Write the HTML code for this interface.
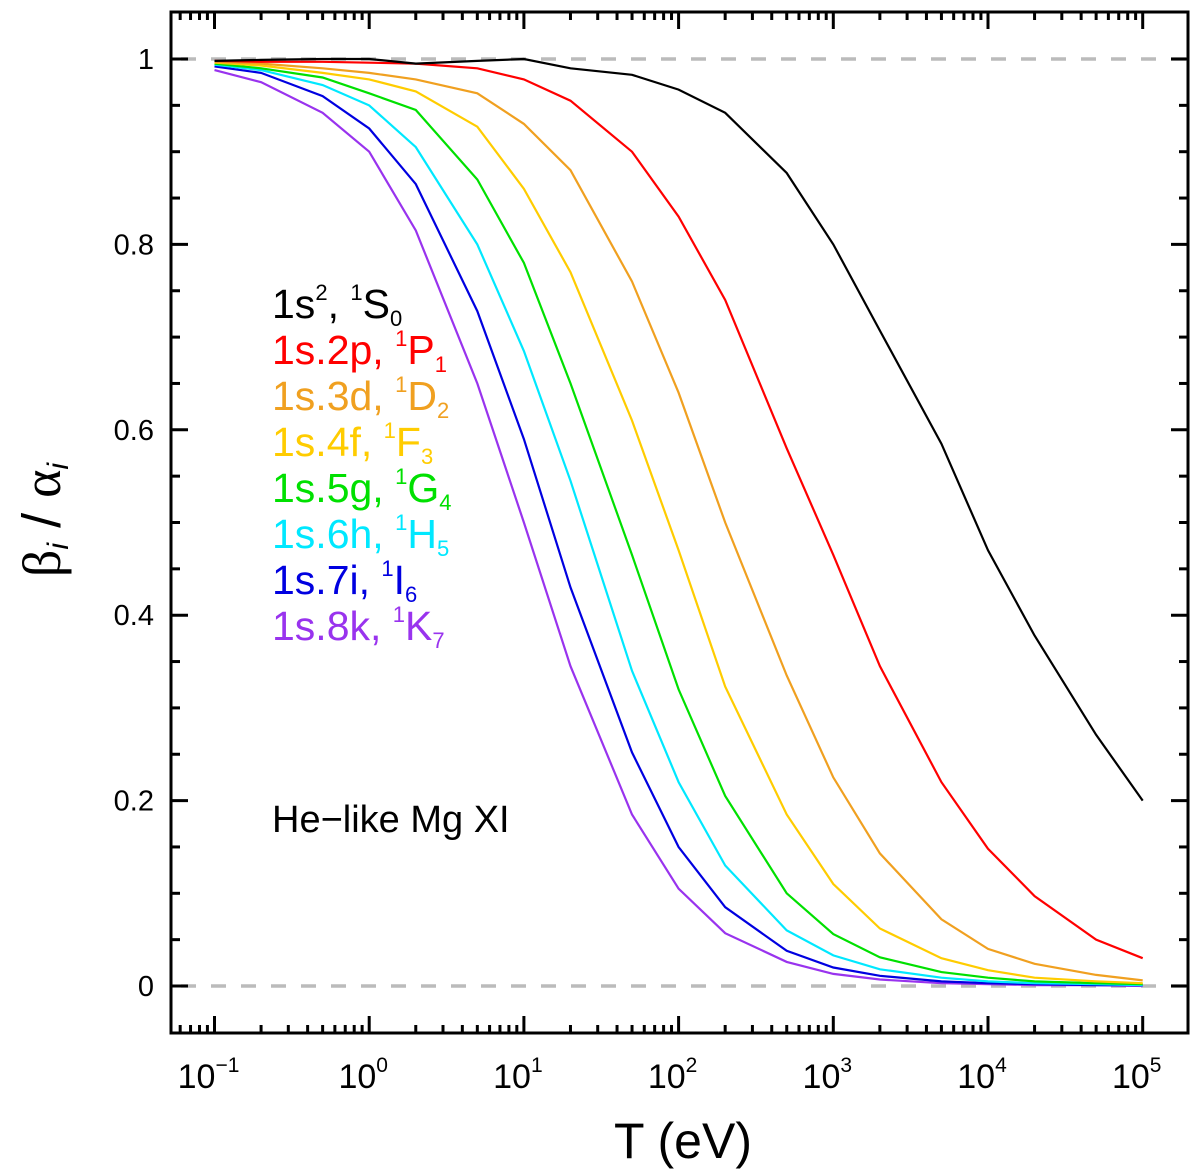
<!DOCTYPE html>
<html><head><meta charset="utf-8"><style>
html,body{margin:0;padding:0;background:#fff;}
svg{display:block;font-family:"Liberation Sans",sans-serif;}
</style></head><body>
<svg id="chart" width="1200" height="1169" viewBox="0 0 1200 1169" xmlns="http://www.w3.org/2000/svg">
<g id="grid"></g>
<g id="series"></g>
<g id="axes"></g>
<g id="legend">
<text x="272" y="318" font-size="41" fill="#000">1s<tspan font-size="22" dy="-18">2</tspan><tspan dy="18">, </tspan><tspan font-size="22" dy="-18">1</tspan><tspan dy="18">S</tspan><tspan font-size="22" dy="8">0</tspan></text>
<text x="272" y="364" font-size="41" fill="#ff0000">1s.2p, <tspan font-size="22" dy="-18">1</tspan><tspan dy="18">P</tspan><tspan font-size="22" dy="8">1</tspan></text>
<text x="272" y="410" font-size="41" fill="#f0a020">1s.3d, <tspan font-size="22" dy="-18">1</tspan><tspan dy="18">D</tspan><tspan font-size="22" dy="8">2</tspan></text>
<text x="272" y="456" font-size="41" fill="#ffcc00">1s.4f, <tspan font-size="22" dy="-18">1</tspan><tspan dy="18">F</tspan><tspan font-size="22" dy="8">3</tspan></text>
<text x="272" y="502" font-size="41" fill="#00e000">1s.5g, <tspan font-size="22" dy="-18">1</tspan><tspan dy="18">G</tspan><tspan font-size="22" dy="8">4</tspan></text>
<text x="272" y="548" font-size="41" fill="#00e8ff">1s.6h, <tspan font-size="22" dy="-18">1</tspan><tspan dy="18">H</tspan><tspan font-size="22" dy="8">5</tspan></text>
<text x="272" y="594" font-size="41" fill="#0000e0">1s.7i, <tspan font-size="22" dy="-18">1</tspan><tspan dy="18">I</tspan><tspan font-size="22" dy="8">6</tspan></text>
<text x="272" y="640" font-size="41" fill="#9933ee">1s.8k, <tspan font-size="22" dy="-18">1</tspan><tspan dy="18">K</tspan><tspan font-size="22" dy="8">7</tspan></text>
</g>
<text x="272" y="832" font-size="38" fill="#000">He−like Mg XI</text>
<text x="683" y="1158" font-size="50" text-anchor="middle" fill="#000">T (eV)</text>
<text transform="translate(60,520) rotate(-90)" font-size="54" text-anchor="middle" fill="#000"><tspan font-family="Liberation Serif,serif">β</tspan><tspan font-size="30" font-style="italic" dy="8">i</tspan><tspan dy="-8"> / </tspan><tspan font-family="Liberation Serif,serif">α</tspan><tspan font-size="30" font-style="italic" dy="8">i</tspan></text>
</svg>
<script>
const temps = [0.1,0.2,0.5,1,2,5,10,20,50,100,200,500,1000,2000,5000,1e4,2e4,5e4,1e5];
const s1S0 = [0.998,0.999,1.0,1.0,0.995,0.998,1.0,0.99,0.983,0.967,0.942,0.877,0.80,0.707,0.585,0.47,0.378,0.271,0.20];
const s2P1 = [0.998,0.997,0.997,0.996,0.995,0.99,0.978,0.955,0.90,0.83,0.74,0.58,0.465,0.345,0.22,0.148,0.097,0.05,0.03];
const s3D2 = [0.997,0.995,0.99,0.985,0.978,0.963,0.93,0.88,0.76,0.64,0.50,0.335,0.225,0.143,0.072,0.04,0.024,0.012,0.006];
const s4F3 = [0.996,0.993,0.985,0.978,0.965,0.927,0.86,0.77,0.61,0.47,0.323,0.185,0.11,0.062,0.03,0.017,0.009,0.005,0.003];
const s5G4 = [0.995,0.99,0.98,0.963,0.945,0.87,0.78,0.65,0.465,0.32,0.205,0.10,0.056,0.031,0.015,0.009,0.005,0.003,0.002];
const s6H5 = [0.994,0.988,0.972,0.95,0.905,0.80,0.685,0.545,0.34,0.22,0.13,0.06,0.033,0.018,0.009,0.005,0.003,0.002,0.001];
const s7I6 = [0.992,0.985,0.96,0.925,0.865,0.728,0.59,0.43,0.252,0.15,0.085,0.038,0.02,0.011,0.005,0.003,0.002,0.001,0.001];
const s8K7 = [0.988,0.975,0.942,0.90,0.815,0.65,0.50,0.345,0.185,0.105,0.057,0.026,0.013,0.007,0.003,0.002,0.001,0.001,0.0];
const seriesNames = ["1s2-1S0","1s2p-1P1","1s3d-1D2","1s4f-1F3","1s5g-1G4","1s6h-1H5","1s7i-1I6","1s8k-1K7"];
const xTickExps = [-1,0,1,2,3,4,5];
const yTickLabels = ["0","0.2","0.4","0.6","0.8","1"];
const yTickValues = [0,0.2,0.4,0.6,0.8,1];

const NS="http://www.w3.org/2000/svg";
const L=171,R=1188,T=12,B=1033;
function xs(t){return 214.5+(Math.log10(t)+1)*154.7;}
function ys(v){return 986-v*927;}
function mk(tag,parent){const e=document.createElementNS(NS,tag);parent.appendChild(e);return e;}

const grid=document.getElementById('grid');
[0,1].forEach(v=>{
  const l=mk('line',grid);
  
  
  l.setAttribute('x1',L);l.setAttribute('x2',R);l.setAttribute('y1',ys(v));l.setAttribute('y2',ys(v));
  l.setAttribute('stroke','#bbbbbb');l.setAttribute('stroke-width','3.5');l.setAttribute('stroke-dasharray','15 15');l.setAttribute('stroke-dashoffset','-10');
});

const colors=["#000000","#ff0000","#f0a020","#ffcc00","#00e000","#00e8ff","#0000e0","#9933ee"];
const all=[s1S0,s2P1,s3D2,s4F3,s5G4,s6H5,s7I6,s8K7];
const sg=document.getElementById('series');
for(let k=all.length-1;k>=0;k--){
  const p=mk('polyline',sg);
  
  
  p.setAttribute('points',temps.map((t,i)=>xs(t).toFixed(1)+','+ys(all[k][i]).toFixed(1)).join(' '));
  p.setAttribute('fill','none');p.setAttribute('stroke',colors[k]);p.setAttribute('stroke-width','2.2');
}

const ax=document.getElementById('axes');
const fr=mk('rect',ax);


fr.setAttribute('x',L);fr.setAttribute('y',T);fr.setAttribute('width',R-L);fr.setAttribute('height',B-T);
fr.setAttribute('fill','none');fr.setAttribute('stroke','#000');fr.setAttribute('stroke-width','3');
function tick(x1,y1,x2,y2,name){const l=mk('line',ax);
  
  
  l.setAttribute('x1',x1);l.setAttribute('y1',y1);l.setAttribute('x2',x2);l.setAttribute('y2',y2);l.setAttribute('stroke','#000');l.setAttribute('stroke-width','3');}
for(let e=-2;e<=5;e++){
  for(let m=1;m<10;m++){
    const x=xs(m*Math.pow(10,e));
    if(x<L+2||x>R-2)continue;
    const len=m===1?17:8;
    tick(x,B,x,B-len,'x-tick');tick(x,T,x,T+len,'x-tick');
  }
}
xTickExps.forEach(e=>{
  const t=mk('text',ax);
  
  
  t.setAttribute('x',xs(Math.pow(10,e))-6);t.setAttribute('y',1088);t.setAttribute('font-size','34');t.setAttribute('text-anchor','middle');
  t.innerHTML='10<tspan font-size="21" dy="-16">'+(e<0?'−':'')+Math.abs(e)+'</tspan>';
});
for(let i=-1;i<=21;i++){
  const v=i*0.05;const y=ys(v);
  if(y<T+2||y>B-2)continue;
  const len=(i%4===0)?17:9;
  tick(L,y,L+len,y,'y-tick');tick(R,y,R-len,y,'y-tick');
}
yTickValues.forEach((v,i)=>{
  const t=mk('text',ax);
  
  
  t.setAttribute('x',154);t.setAttribute('y',ys(v)+10);t.setAttribute('font-size','29');t.setAttribute('text-anchor','end');
  t.textContent=yTickLabels[i];
});
</script>
</body></html>
